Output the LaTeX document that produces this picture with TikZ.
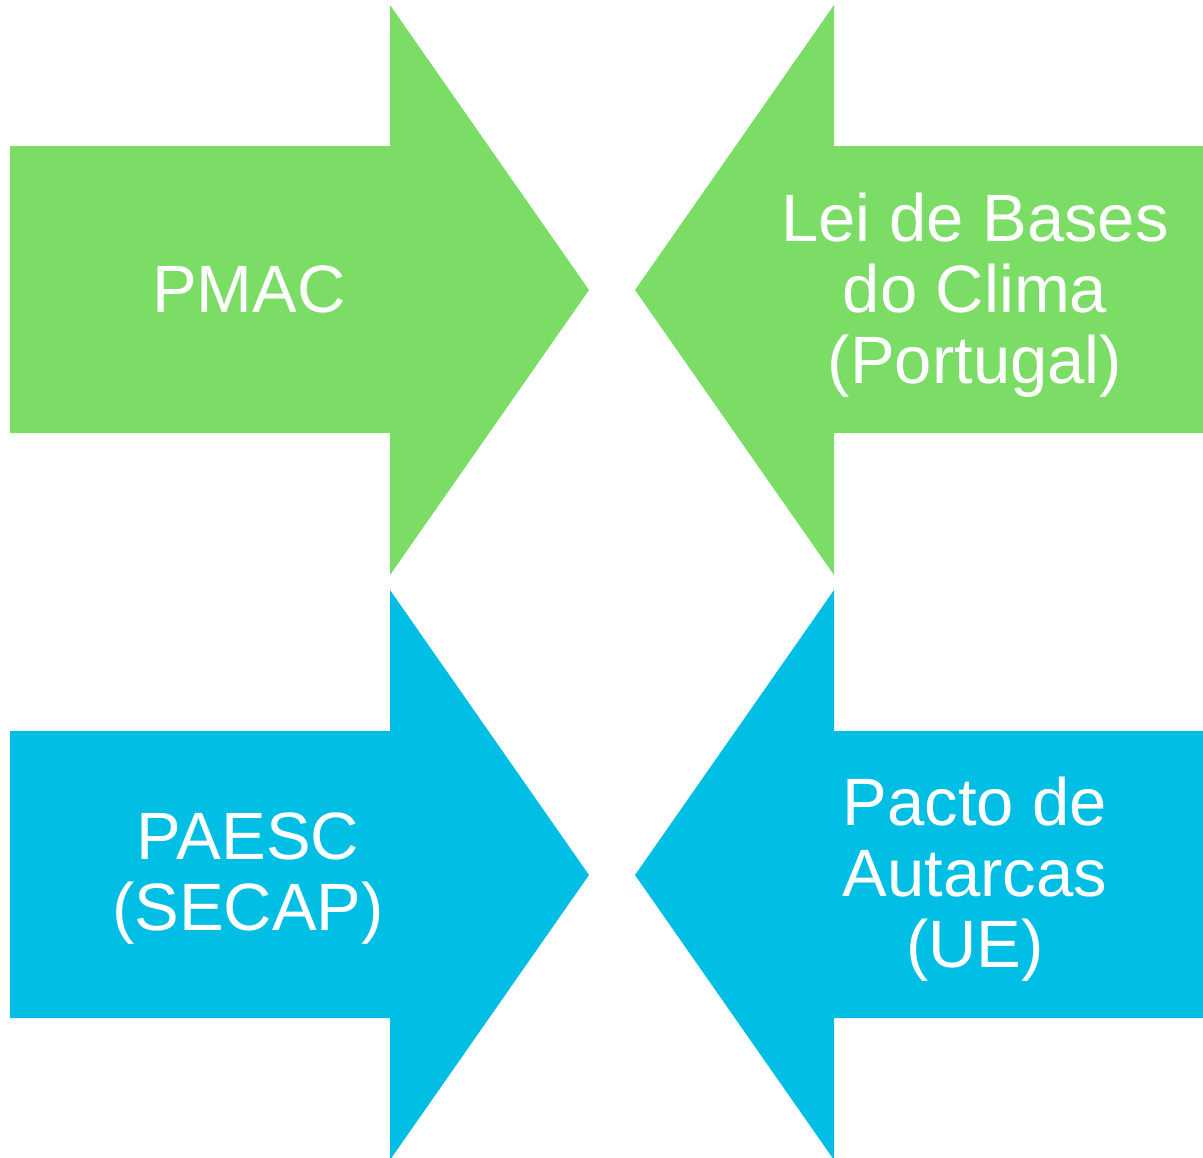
\documentclass[tikz,border=0pt]{standalone}
\usepackage{fontspec}
\setmainfont{Liberation Sans}
\definecolor{arrowgreen}{RGB}{123,221,102}
\definecolor{arrowblue}{RGB}{0,190,228}
\tikzset{
	greenarrow/.style={fill=arrowgreen,draw=none},
	bluearrow/.style={fill=arrowblue,draw=none},
	arrowtext/.style={text=white,align=center,anchor=base,inner sep=0pt,
		font=\fontsize{33.5}{35.5}\selectfont}
}
\begin{document}
\begin{tikzpicture}[x=0.5pt,y=-0.5pt]
		\useasboundingbox (0,0) rectangle (1203,1157);
		
		% upper pair
		\fill[greenarrow] (10,146) -- (390,146) -- (390,5) -- (589,290) -- (390,575) -- (390,433) -- (10,433) -- cycle;
		\fill[greenarrow] (1203,146) -- (834,146) -- (834,5) -- (635,290) -- (834,575) -- (834,433) -- (1203,433) -- cycle;
		
		% lower pair
		\fill[bluearrow] (10,731) -- (390,731) -- (390,590) -- (589,875) -- (390,1160) -- (390,1018) -- (10,1018) -- cycle;
		\fill[bluearrow] (1203,731) -- (834,731) -- (834,590) -- (635,875) -- (834,1160) -- (834,1018) -- (1203,1018) -- cycle;
		
		% labels (base = last line)
		\node[arrowtext] (pmac) at (249,312) {PMAC};
		\node[arrowtext] (lei) at (975,383) {Lei de Bases\\do Clima\\(Portugal)};
		\node[arrowtext] (paesc) at (248,930) {PAESC\\(SECAP)};
		\node[arrowtext] (pacto) at (975,967) {Pacto de\\Autarcas\\(UE)};
	\end{tikzpicture}
\end{document}
